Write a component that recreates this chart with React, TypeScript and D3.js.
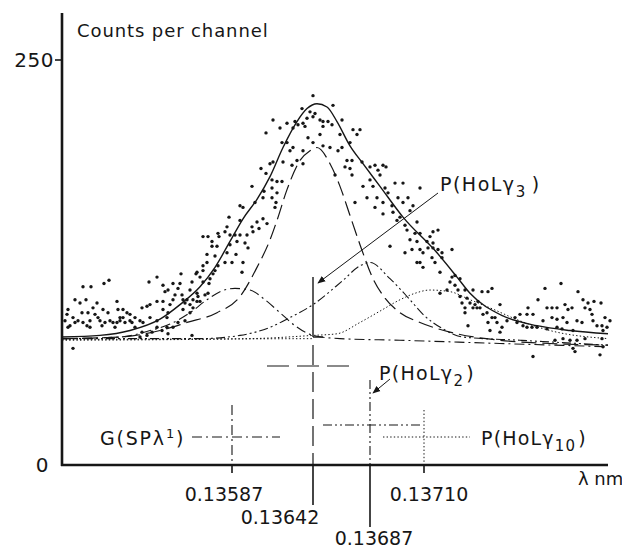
import React from "react";
import * as d3 from "d3";

const W = 622;
const H = 549;

// x: channel number, y: counts per channel
const tickChannels = [170, 251, 308, 362];
const tickLabels = ["0.13587", "0.13642", "0.13687", "0.13710"];
const tickRows = [0, 1, 2, 0];
const yTickValues = [0, 250];
const yTickLabels = ["0", "250"];

const spectrum: [number, number][] = [
  [21,110],[29,110],[42,112],[47,114],[13,102],[18,100],[24,102],[35,100],[31,97],[6,96],
  [20,94],[26,94],[33,93],[41,96],[46,94],[55,101],[56,96],[61,96],[65,94],[68,93],
  [61,91],[58,89],[68,89],[73,91],[70,88],[78,89],[80,97],[85,98],[88,99],[95,101],
  [87,113],[95,116],[88,91],[81,88],[95,89],[5,93],[11,91],[8,86],[6,85],[13,88],
  [16,89],[21,88],[25,86],[28,89],[28,85],[38,89],[40,86],[43,88],[48,89],[51,88],
  [53,85],[55,88],[58,91],[63,88],[73,85],[80,82],[78,79],[85,80],[90,82],[95,85],
  [11,72],[36,91],[3,89],
  [204,205],[199,183],[204,180],[190,172],[202,169],[193,162],[201,165],[178,160],[181,159],[167,153],
  [178,151],[190,147],[197,146],[201,152],[205,149],[195,150],[141,141],[146,141],[150,138],[156,143],
  [163,144],[157,141],[165,147],[155,135],[150,135],[168,142],[173,142],[178,142],[185,142],[191,144],
  [175,138],[183,137],[186,134],[165,131],[168,136],[174,130],[163,125],[170,125],[181,125],[180,119],
  [145,130],[153,129],[145,125],[156,123],[141,123],[135,119],[141,120],[151,118],[148,115],[153,120],
  [119,118],[130,113],[134,118],[138,116],[141,113],[147,112],[135,106],[128,108],[118,112],[111,112],
  [116,109],[106,108],[101,111],[103,107],[113,105],[120,105],[125,102],[131,102],[135,101],[136,104],
  [121,102],[123,100],[128,99],[111,102],[108,99],[101,101],[101,96],[106,94],[121,96],[128,94],
  [138,101],[143,105],[146,106],[131,97],[105,91],[116,88],[105,85],[100,83],[106,81],[130,80],
  [123,89],[111,85],
  [251,228],[271,222],[248,218],[240,220],[253,217],[251,215],[245,214],[233,212],[236,210],[231,208],
  [225,211],[218,208],[211,213],[241,211],[243,209],[258,213],[261,212],[266,212],[270,210],[261,209],
  [280,213],[278,204],[291,207],[298,207],[295,204],[258,204],[246,202],[251,199],[261,197],[268,196],
  [276,194],[280,196],[288,199],[225,199],[220,199],[228,194],[231,196],[241,194],[221,187],[235,188],
  [241,186],[230,185],[211,187],[285,188],[290,188],[283,184],[288,183],[300,187],[308,184],[313,185],
  [316,182],[273,179],[290,179],[308,176],[311,172],[301,172],[315,165],[305,165],[293,162],[313,159],
  [210,176],[215,175],[220,175],[210,171],[215,168],[210,165],[214,162],[213,159],[208,186],
  [321,185],[324,184],[318,179],[323,171],[326,168],[333,174],[341,174],[358,171],[321,162],[321,155],
  [330,160],[331,156],[336,165],[341,162],[346,165],[351,160],[348,157],[335,151],[338,153],[343,148],
  [355,150],[353,143],[345,145],[358,143],[371,144],[376,145],[368,141],[365,138],[371,137],[348,139],
  [355,138],[328,135],[343,131],[350,133],[358,133],[361,131],[366,134],[371,134],[376,133],[380,131],
  [390,133],[370,128],[380,128],[355,125],[361,122],[358,125],[373,125],[378,119],[390,116],[393,117],
  [398,115],[388,113],[393,111],[385,108],[396,108],[403,108],[378,106],[398,104],[405,103],[408,100],
  [400,100],[403,97],[403,94],[406,86],[413,99],[416,101],
  [411,108],[420,107],[426,107],[430,109],[411,97],[415,97],[418,97],[425,94],[438,99],[421,93],
  [430,91],[433,91],[426,88],[435,88],[445,89],[453,91],[458,93],[455,88],[465,93],[471,93],
  [466,97],[476,102],[483,109],[499,112],[485,97],[490,97],[495,97],[503,99],[506,96],[510,97],
  [516,107],[521,102],[526,100],[532,101],[539,100],[523,97],[528,96],[530,93],[481,89],[490,91],
  [495,90],[501,91],[505,88],[515,89],[520,88],[531,89],[543,91],[548,89],[535,86],[540,86],
  [545,85],[541,83],[428,83],[440,85],[438,82],[461,86],[465,85],[470,85],[475,85],[485,84],
  [495,85],[500,84],[511,83],[493,77],[501,78],[508,77],[515,77],[523,78],[540,78],[541,73],
  [511,72],[471,67],[513,70],[538,68]
];

const fitTotal: [number, number][] = [
  [0,79],[38,80],[68,83],[98,90],[118,99],[138,110],[153,122],[168,138],[181,152],[195,164],
  [208,178],[221,196],[235,212],[245,220],[255,223],[265,221],[275,212],[288,197],[301,186],
  [318,172],[341,153],[375,131],[395,116],[408,106],[441,92],[475,86],[508,83],[546,81]
];
const compG: [number, number][] = [
  [0,78],[58,79],[88,83],[108,87],[128,94],[145,102],[158,107],[173,109],[188,108],[203,102],
  [218,94],[233,86],[251,80],[278,78],[338,77],[438,75],[546,73]
];
const compL3: [number, number][] = [
  [0,78],[58,79],[98,83],[125,88],[155,94],[178,104],[195,122],[208,139],[215,151],[225,170],
  [238,188],[248,194],[255,196],[268,186],[278,172],[288,154],[298,136],[311,115],[323,103],
  [338,94],[358,88],[388,82],[438,77],[488,75],[546,74]
];
const compL2: [number, number][] = [
  [0,78],[138,78],[178,80],[208,85],[228,91],[251,99],[281,114],[298,123],[308,125],[328,115],
  [348,102],[361,93],[381,84],[401,79],[458,77],[546,74]
];
const compL10: [number, number][] = [
  [0,77],[188,78],[251,80],[275,81],[298,88],[318,95],[338,102],[353,106],[368,108],[388,107],
  [408,102],[428,97],[458,89],[488,83],[546,78]
];

const FONT = "'DejaVu Sans', sans-serif";
const INK = "#161616";

export default function App() {
  const x = d3.scaleLinear().domain([0, 546]).range([62, 608]);
  const y = d3.scaleLinear().domain([0, 250]).range([465, 60]);
  const line = d3
    .line<[number, number]>()
    .x((d) => x(d[0]))
    .y((d) => y(d[1]))
    .curve(d3.curveMonotoneX);

  const tx = tickChannels.map((c) => x(c));
  const rowBase = [501, 524, 545];
  const labelShift = [-8, -33, 4, 5];

  const dashLong = "15,6";
  const dashDot = "10,4,2,4";
  const dashDotDot = "9,3,2,3,2,3";
  const dotted = "1.4,2.2";

  return (
    <svg
      width={W}
      height={H}
      style={{ position: "absolute", left: 0, top: 0, background: "#fff" }}
      fontFamily={FONT}
    >
      <defs>
        <marker id="arr" viewBox="0 0 10 10" refX="9" refY="5" markerWidth="8" markerHeight="8" orient="auto">
          <path d="M0,1 L10,5 L0,9 Z" fill={INK} />
        </marker>
      </defs>
      <rect width={W} height={H} fill="#fff" />

      {/* axes */}
      <line x1={62} y1={13} x2={62} y2={466} stroke={INK} strokeWidth={2.6} />
      <line x1={61} y1={465} x2={608} y2={465} stroke={INK} strokeWidth={2.6} />
      {yTickValues.map((v, i) => (
        <g key={v}>
          {v > 0 && <line x1={55} x2={62} y1={y(v)} y2={y(v)} stroke={INK} strokeWidth={1.6} />}
          <text x={v > 0 ? 54 : 49} y={y(v) + 7} textAnchor="end" fontSize={20} letterSpacing={0.5} fill={INK}>
            {yTickLabels[i]}
          </text>
        </g>
      ))}
      <text x={77} y={37} fontSize={18} letterSpacing={0.9} fill={INK}>Counts per channel</text>
      <text x={578} y={485} fontSize={18} fill={INK}>λ nm</text>

      {/* x ticks */}
      {tickChannels.map((c, i) => (
        <g key={c}>
          <line
            x1={tx[i]}
            x2={tx[i]}
            y1={465}
            y2={tickRows[i] === 0 ? 473 : tickRows[i] === 1 ? 505 : 527}
            stroke={INK}
            strokeWidth={1.6}
          />
          <text
            x={tx[i] + labelShift[i]}
            y={rowBase[tickRows[i]]}
            textAnchor="middle"
            fontSize={19}
            fill={INK}
          >
            {tickLabels[i]}
          </text>
        </g>
      ))}

      {/* baseline lines */}
      <line x1={x(0)} x2={x(251)} y1={y(77.5)} y2={y(78)} stroke={INK} strokeWidth={1} strokeDasharray={dotted} />

      {/* component curves */}
      <path d={line(compL10) ?? ""} fill="none" stroke={INK} strokeWidth={1} strokeDasharray={dotted} />
      <path d={line(compL2) ?? ""} fill="none" stroke={INK} strokeWidth={1.1} strokeDasharray={dashDotDot} />
      <path d={line(compG) ?? ""} fill="none" stroke={INK} strokeWidth={1.1} strokeDasharray={dashDot} />
      <path d={line(compL3) ?? ""} fill="none" stroke={INK} strokeWidth={1.2} strokeDasharray={dashLong} />
      <path d={line(fitTotal) ?? ""} fill="none" stroke={INK} strokeWidth={1.4} />

      {/* data points */}
      {spectrum.map((d, i) => (
        <circle key={i} cx={x(d[0])} cy={y(d[1])} r={1.7} fill={INK} />
      ))}

      {/* marker for HoL gamma3 */}
      <line x1={tx[1]} x2={tx[1]} y1={277} y2={y(79)} stroke={INK} strokeWidth={1.4} />
      <line x1={tx[1]} x2={tx[1] + 10} y1={y(79)} y2={y(79)} stroke={INK} strokeWidth={1.4} />
      <line x1={438} y1={193} x2={318} y2={283} stroke={INK} strokeWidth={1} markerEnd="url(#arr)" />
      <text x={440} y={191} fontSize={19} letterSpacing={1.5} fill={INK}>
        P(HoLγ<tspan dy={6} fontSize={15}>3</tspan>
        <tspan dy={-6} dx={5}>)</tspan>
      </text>

      {/* long dash : gamma3 */}
      <line x1={tx[1]} x2={tx[1]} y1={345} y2={465} stroke={INK} strokeWidth={1.2} strokeDasharray="20,7" />
      <line x1={267} x2={357} y1={366} y2={366} stroke={INK} strokeWidth={1.2} strokeDasharray="22,8" />

      {/* dash-dot : G(SP lambda1) */}
      <line x1={tx[0]} x2={tx[0]} y1={405} y2={465} stroke={INK} strokeWidth={1.1} strokeDasharray={dashDot} />
      <line x1={192} x2={280} y1={437} y2={437} stroke={INK} strokeWidth={1.1} strokeDasharray={dashDot} />
      <text x={100} y={445} fontSize={19} letterSpacing={1.8} fill={INK}>
        G(SPλ<tspan dy={-7} fontSize={13}>1</tspan>
        <tspan dy={7}>)</tspan>
      </text>

      {/* dash-dot-dot : gamma2 */}
      <line x1={tx[2]} x2={tx[2]} y1={380} y2={465} stroke={INK} strokeWidth={1.1} strokeDasharray={dashDotDot} />
      <line x1={323} x2={420} y1={425} y2={425} stroke={INK} strokeWidth={1.1} strokeDasharray={dashDotDot} />
      <line x1={390} y1={379} x2={373} y2={393} stroke={INK} strokeWidth={1} markerEnd="url(#arr)" />
      <text x={379} y={380} fontSize={19} letterSpacing={1.3} fill={INK}>
        P(HoLγ<tspan dy={6} fontSize={15}>2</tspan>
        <tspan dy={-6} dx={2}>)</tspan>
      </text>

      {/* dotted : gamma10 */}
      <line x1={tx[3]} x2={tx[3]} y1={410} y2={465} stroke={INK} strokeWidth={1} strokeDasharray={dotted} />
      <line x1={383} x2={470} y1={437} y2={437} stroke={INK} strokeWidth={1} strokeDasharray={dotted} />
      <text x={481} y={445} fontSize={19} letterSpacing={1.2} fill={INK}>
        P(HoLγ<tspan dy={6} fontSize={15}>10</tspan>
        <tspan dy={-6} dx={2}>)</tspan>
      </text>
    </svg>
  );
}
